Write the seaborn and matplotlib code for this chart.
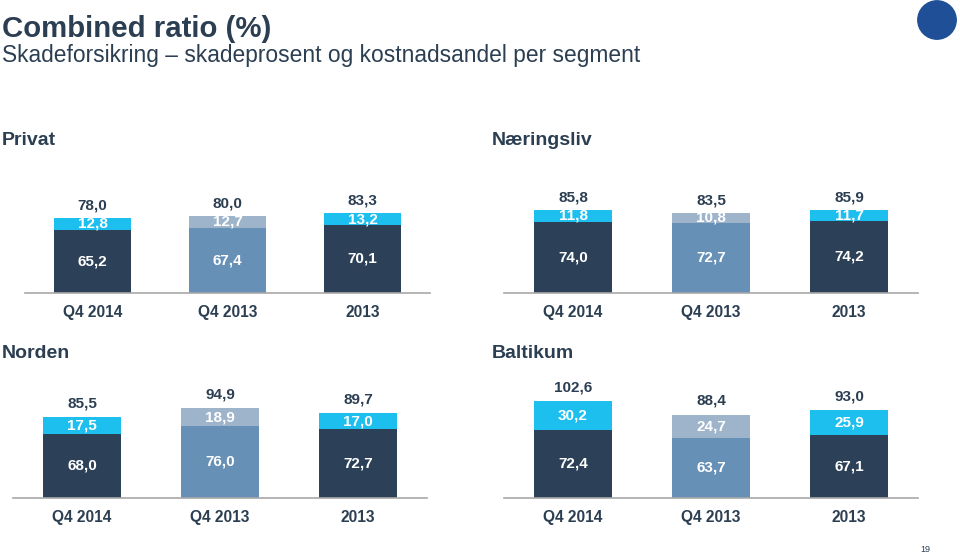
import pandas as pd
import numpy as np
import matplotlib
matplotlib.use("Agg")
import matplotlib.pyplot as plt
import seaborn as sns
from matplotlib.patches import Circle

# Data
categories = ["Q4 2014", "Q4 2013", "2013"]

privat_skade = [65.2, 67.4, 70.1]
privat_kost = [12.8, 12.7, 13.2]
privat_total = [78.0, 80.0, 83.3]

naering_skade = [74.0, 72.7, 74.2]
naering_kost = [11.8, 10.8, 11.7]
naering_total = [85.8, 83.5, 85.9]

norden_skade = [68.0, 76.0, 72.7]
norden_kost = [17.5, 18.9, 17.0]
norden_total = [85.5, 94.9, 89.7]

baltikum_skade = [72.4, 63.7, 67.1]
baltikum_kost = [30.2, 24.7, 25.9]
baltikum_total = [102.6, 88.4, 93.0]

# colours
TEXT = "#2B3E52"
DARK = "#2C4157"
CYAN = "#1DBFEF"
STEEL = "#6790B6"
LSTEEL = "#9DB4CB"
AXIS = "#A8A8A8"

bottom_pal = {"Q4 2014": DARK, "Q4 2013": STEEL, "2013": DARK}
top_pal = {"Q4 2014": CYAN, "Q4 2013": LSTEEL, "2013": CYAN}

sns.set_theme(style="white")
plt.rcParams['font.family'] = ['Liberation Sans', 'DejaVu Sans']

W, H = 960, 556
fig = plt.figure(figsize=(W / 100, H / 100), dpi=100)


def px_axes(left, width, base, height):
    return fig.add_axes([left / W, (H - base) / H, width / W, height / H])


def draw_panel(ax, skade, kost, total, px_per_unit, top_off):
    df = pd.DataFrame({"kat": categories, "skade": skade, "kost": kost, "total": total})
    df["sum"] = df["skade"] + df["kost"]
    sns.barplot(data=df, x="kat", y="sum", hue="kat", palette=top_pal, width=0.57,
                legend=False, saturation=1, linewidth=0, edgecolor="none", ax=ax)
    sns.barplot(data=df, x="kat", y="skade", hue="kat", palette=bottom_pal, width=0.57,
                legend=False, saturation=1, linewidth=0, edgecolor="none", ax=ax)
    ax.set_xlim(-0.5, 2.5)
    ax.set_ylim(0, 110)
    off = top_off / px_per_unit
    for i, row in df.iterrows():
        ax.text(i, row["skade"] / 2, f"{row['skade']:.1f}".replace(".", ","),
                ha="center", va="center", color="white", fontsize=11, fontweight="bold")
        ax.text(i, row["skade"] + row["kost"] / 2, f"{row['kost']:.1f}".replace(".", ","),
                ha="center", va="center", color="white", fontsize=11, fontweight="bold")
        ax.text(i, row["sum"] + off, f"{row['total']:.1f}".replace(".", ","),
                ha="center", va="center", color=TEXT, fontsize=11, fontweight="bold")
    ax.set_xlabel("")
    ax.set_ylabel("")
    ax.set_yticks([])
    ax.set_xticks(range(3))
    ax.set_xticklabels(categories, fontsize=11.2, fontweight="bold", color=TEXT)
    ax.tick_params(axis="x", length=0, pad=9)
    for s in ["top", "left", "right"]:
        ax.spines[s].set_visible(False)
    ax.spines["bottom"].set_color(AXIS)
    ax.spines["bottom"].set_linewidth(1.2)
    ax.patch.set_alpha(0)


ax1 = px_axes(25, 405, 292.5, 110 * 0.958)
draw_panel(ax1, privat_skade, privat_kost, privat_total, 0.958, 12.5)
ax2 = px_axes(504, 414, 292.5, 110 * 0.958)
draw_panel(ax2, naering_skade, naering_kost, naering_total, 0.958, 12.5)
ax3 = px_axes(13, 414, 497.7, 110 * 0.94)
draw_panel(ax3, norden_skade, norden_kost, norden_total, 0.94, 14)
ax4 = px_axes(504, 414, 497.7, 110 * 0.94)
draw_panel(ax4, baltikum_skade, baltikum_kost, baltikum_total, 0.94, 14)

# titles
fig.text(2 / W, 1 - 37 / H, "Combined ratio (%)", fontsize=21.2, fontweight="bold",
         color=TEXT, va="baseline")
fig.text(2 / W, 1 - 62 / H, "Skadeforsikring \u2013 skadeprosent og kostnadsandel per segment",
         fontsize=16.4, color=TEXT, va="baseline")
fig.text(2 / W, 1 - 145 / H, "Privat", fontsize=14, fontweight="bold", color=TEXT, va="baseline")
fig.text(492 / W, 1 - 145 / H, "Næringsliv", fontsize=14, fontweight="bold", color=TEXT, va="baseline")
fig.text(2 / W, 1 - 358 / H, "Norden", fontsize=14, fontweight="bold", color=TEXT, va="baseline")
fig.text(492 / W, 1 - 358 / H, "Baltikum", fontsize=14, fontweight="bold", color=TEXT, va="baseline")
fig.text(925 / W, 1 - 549 / H, "19", fontsize=6.5, color=TEXT, va="center", ha="center")

# logo circle (top right)
logo = fig.add_axes([917 / W, 1 - 40 / H, 40 / W, 40 / H])
logo.add_patch(Circle((0.5, 0.5), 0.48, color="#1F4F96"))
logo.set_xlim(0, 1)
logo.set_ylim(0, 1)
logo.set_aspect("equal")
logo.axis("off")

fig.savefig("out.png", dpi=100)
